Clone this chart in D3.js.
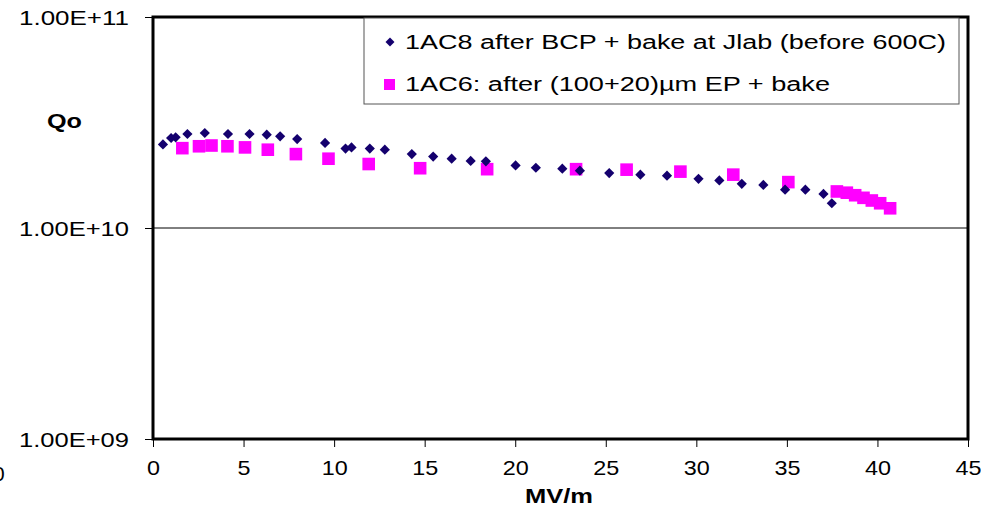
<!DOCTYPE html>
<html><head><meta charset="utf-8">
<script src="https://cdn.jsdelivr.net/npm/d3@7"></script>
<style>
body{margin:0;background:#fff;}
svg{display:block;font-family:"Liberation Sans",Arial,sans-serif;}
</style></head>
<body><svg id="c" width="981" height="507"></svg>
<script>
const seriesNames = ["1AC8 after BCP + bake at Jlab (before 600C)", "1AC6: after (100+20)\u00b5m EP + bake"];
const ac8E = [0.55,1.0,1.25,1.9,2.86,4.14,5.33,6.28,7.02,7.96,9.5,10.63,10.96,11.97,12.8,14.29,15.47,16.49,17.54,18.38,20.02,21.14,22.6,23.57,25.19,26.91,28.38,30.12,31.27,32.51,33.7,34.9,36.02,37.02,37.48];
const ac8Q = [2.49e10,2.67e10,2.69e10,2.79e10,2.82e10,2.79e10,2.79e10,2.77e10,2.72e10,2.64e10,2.53e10,2.38e10,2.41e10,2.38e10,2.35e10,2.24e10,2.18e10,2.13e10,2.08e10,2.07e10,1.98e10,1.93e10,1.91e10,1.87e10,1.82e10,1.79e10,1.77e10,1.71e10,1.68e10,1.62e10,1.60e10,1.52e10,1.52e10,1.45e10,1.31e10];
const ac6E = [1.62,2.54,3.23,4.11,5.08,6.34,7.89,9.69,11.91,14.75,18.45,23.36,26.15,29.12,32.04,35.08,37.76,38.31,38.77,39.23,39.69,40.15,40.7];
const ac6Q = [2.39e10,2.44e10,2.46e10,2.44e10,2.41e10,2.35e10,2.24e10,2.13e10,2.01e10,1.92e10,1.90e10,1.90e10,1.89e10,1.85e10,1.79e10,1.65e10,1.49e10,1.47e10,1.43e10,1.39e10,1.35e10,1.31e10,1.24e10];
const xTicks = [0,5,10,15,20,25,30,35,40,45];
const yTicks = [1e9,1e10,1e11];
const yTickLabels = ["1.00E+09","1.00E+10","1.00E+11"];
const xTitle = "MV/m", yTitle = "Qo";

const svg = d3.select("#c");
const L=153, R=968, T=17, B=439;
const x = d3.scaleLinear().domain([0,45]).range([L,R]);
const y = d3.scaleLog().domain([1e9,1e11]).range([B,T]);

// gridline
svg.append("line").attr("x1",L).attr("x2",R).attr("y1",y(1e10)).attr("y2",y(1e10))
  .attr("stroke","#000").attr("stroke-width",1);

// axes
const ya = svg.append("g").attr("transform",`translate(${L},0)`)
  .call(d3.axisLeft(y).tickValues(yTicks).tickSize(8).tickPadding(16)
    .tickFormat((d,i)=>yTickLabels[i]));
const xa = svg.append("g").attr("transform",`translate(0,${B})`)
  .call(d3.axisBottom(x).tickValues(xTicks).tickSize(8).tickPadding(13));
[ya,xa].forEach(g=>{
  g.select(".domain").remove();
  g.selectAll(".tick line").attr("stroke","#000").attr("stroke-width",1);
  g.selectAll(".tick text").attr("fill","#000").style("font-size","21px")
   .style("font-family","'Liberation Sans',Arial,sans-serif");
});
ya.selectAll(".tick text").attr("dy","0.36em").attr("x",-24)
  .attr("textLength",110).attr("lengthAdjust","spacingAndGlyphs");
xa.selectAll(".tick text").each(function(d){
  const s = String(d);
  d3.select(this).attr("textLength",13*s.length).attr("lengthAdjust","spacingAndGlyphs");
});

// border
svg.append("rect").attr("x",L).attr("y",T).attr("width",R-L).attr("height",B-T)
  .attr("fill","none").attr("stroke","#000").attr("stroke-width",3);

// points
const ac8 = ac8E.map((e,i)=>({e,q:ac8Q[i]}));
const ac6 = ac6E.map((e,i)=>({e,q:ac6Q[i]}));
svg.append("g").selectAll("rect").data(ac6).join("rect")
  .attr("x",d=>x(d.e)-6.3).attr("y",d=>y(d.q)-6.3).attr("width",12.6).attr("height",12.6)
  .attr("fill","#ff00ff");
const dia = d3.symbol().type(d3.symbolSquare).size(52);
svg.append("g").selectAll("path").data(ac8).join("path")
  .attr("d",dia).attr("transform",d=>`translate(${x(d.e)},${y(d.q)}) rotate(45)`)
  .attr("fill","#14006e");

// legend
svg.append("rect").attr("x",364).attr("y",18).attr("width",595).attr("height",86)
  .attr("fill","#fff").attr("stroke","#555").attr("stroke-width",1);
svg.append("path").attr("d",d3.symbol().type(d3.symbolSquare).size(40))
  .attr("transform","translate(390,42) rotate(45)").attr("fill","#14006e");
svg.append("rect").attr("x",384).attr("y",79).attr("width",11).attr("height",11).attr("fill","#ff00ff");
svg.append("text").attr("x",405).attr("y",49).text(seriesNames[0])
  .style("font-size","19.5px").attr("textLength",541).attr("lengthAdjust","spacingAndGlyphs");
svg.append("text").attr("x",405).attr("y",91).text(seriesNames[1])
  .style("font-size","19.5px").attr("textLength",425).attr("lengthAdjust","spacingAndGlyphs");

// titles
svg.append("text").attr("x",47).attr("y",128).text(yTitle)
  .style("font-size","21px").style("font-weight","bold")
  .attr("textLength",35).attr("lengthAdjust","spacingAndGlyphs");
svg.append("text").attr("x",525).attr("y",503).text(xTitle)
  .style("font-size","21px").style("font-weight","bold")
  .attr("textLength",68).attr("lengthAdjust","spacingAndGlyphs");
// stray cropped label at left edge (as in reference)
svg.append("text").attr("x",-7).attr("y",481).text("0").style("font-size","21px");
</script></body></html>
